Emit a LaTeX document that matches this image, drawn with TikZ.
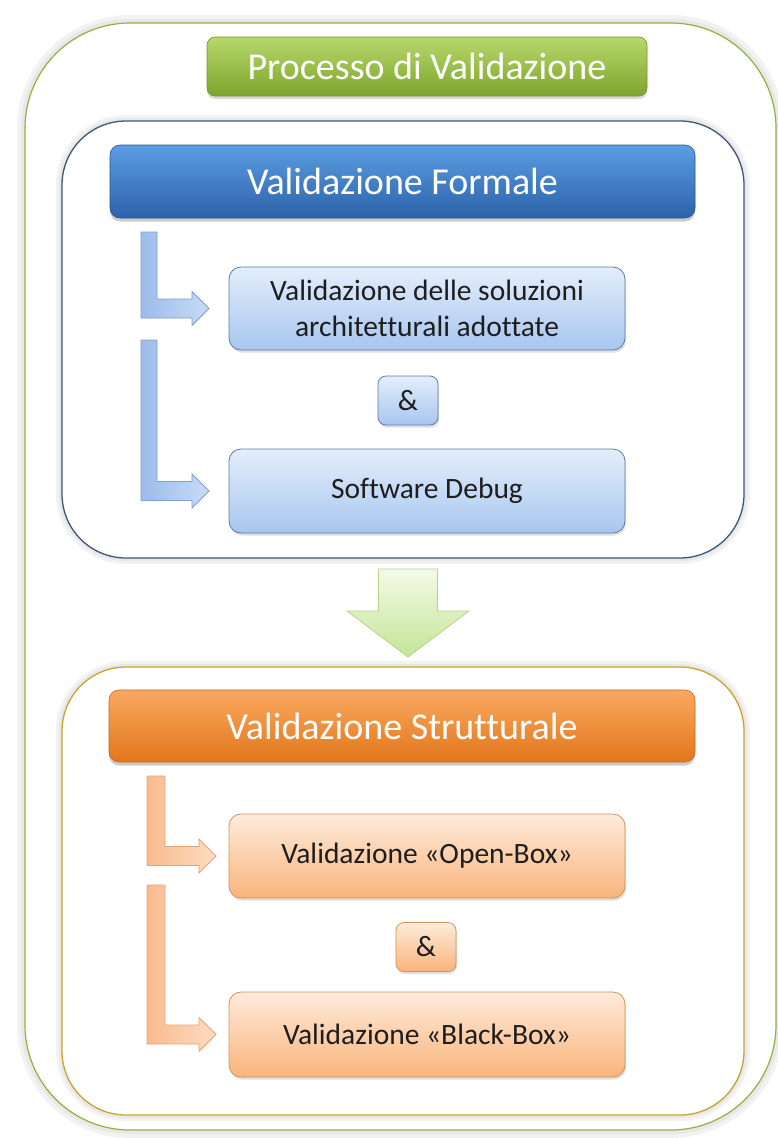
\documentclass[tikz,border=0pt]{standalone}
\usepackage{fontspec}
\setmainfont[Ligatures=NoCommon]{Carlito}
\usetikzlibrary{calc,shadows}
\definecolor{gTop}{HTML}{B7D86C}
\definecolor{gBot}{HTML}{7EA42B}
\definecolor{gBorder}{HTML}{76962E}
\definecolor{frameC}{HTML}{8DB33C}
\definecolor{bCont}{HTML}{3F5679}
\definecolor{oCont}{HTML}{C9A52A}
\definecolor{bHTop}{HTML}{5C9DE2}
\definecolor{bHBot}{HTML}{2C62A9}
\definecolor{bHBorder}{HTML}{2A5590}
\definecolor{oHTop}{HTML}{FAA961}
\definecolor{oHBot}{HTML}{E2761A}
\definecolor{oHBorder}{HTML}{C8661A}
\definecolor{bSTop}{HTML}{E4EEFB}
\definecolor{bSBot}{HTML}{A8C6F0}
\definecolor{bSBorder}{HTML}{5E7DA8}
\definecolor{oSTop}{HTML}{FEEBDB}
\definecolor{oSBot}{HTML}{F9B47C}
\definecolor{oSBorder}{HTML}{CF945C}
\definecolor{bATop}{HTML}{C9DBF5}
\definecolor{bABot}{HTML}{9CBCEA}
\definecolor{bABorder}{HTML}{7E9FCF}
\definecolor{oATop}{HTML}{FDDCC3}
\definecolor{oABot}{HTML}{F8BB8E}
\definecolor{oABorder}{HTML}{E3A575}
\definecolor{grTop}{HTML}{F4FAE8}
\definecolor{grBot}{HTML}{C4E596}
\definecolor{grBorder}{HTML}{B5D68A}
\definecolor{txt}{HTML}{1E1E1E}
\newcommand{\hdrfont}{\fontsize{38}{44}\selectfont}
\newcommand{\subfont}{\fontsize{29.5}{36.5}\selectfont}
\newcommand{\larrow}[7]{%
  \coordinate (#1t) at ($(#4.west)+(-#5,0)$);
  \coordinate (#1a) at (#2,#3);
  \coordinate (#1b) at ({#2+#6},#3);
  \coordinate (#1c) at ($(#1t)+(-17,-9.5)$);
  \coordinate (#1d) at ($(#1t)+(-17,-17)$);
  \coordinate (#1e) at ($(#1t)+(-17,17)$);
  \coordinate (#1f) at ($(#1t)+(-17,9.5)$);
  \path[#7] (#1a) -- (#1b) -- (#1b |- #1c) -- (#1c) -- (#1d) -- (#1t) -- (#1e) -- (#1f) -- (#1a |- #1f) -- cycle;
}
\begin{document}
\begin{tikzpicture}[x=1pt,y=-1pt,
  every node/.style={inner sep=0pt, outer sep=0pt},
  outerframe/.style={draw=frameC, line width=1.2pt, fill=white, rounded corners=105pt,
    preaction={draw=black!5, line width=16pt}, preaction={draw=black!9, line width=8pt}},
  container/.style={line width=1.3pt, fill=white, rounded corners=64pt,
    preaction={draw=black!5, line width=12pt}, preaction={draw=black!9, line width=6pt}},
  titlebox/.style={rounded corners=8pt, top color=gTop, bottom color=gBot, draw=gBorder,
    line width=.6pt, text=white, font=\hdrfont,
    drop shadow={shadow xshift=0pt, shadow yshift=-3pt, opacity=.3}},
  header/.style={rounded corners=10pt, line width=.6pt, text=white, font=\hdrfont,
    drop shadow={shadow xshift=0pt, shadow yshift=-3.5pt, opacity=.4}},
  subbox/.style={rounded corners=12pt, line width=.8pt, text=txt, font=\subfont, align=center,
    drop shadow={shadow xshift=1pt, shadow yshift=-2.5pt, opacity=.25}},
  ampbox/.style={rounded corners=8pt, line width=.8pt, text=txt, font=\subfont,
    minimum width=60pt, minimum height=49pt,
    drop shadow={shadow xshift=1pt, shadow yshift=-2.5pt, opacity=.25}},
  bluesub/.style={subbox, draw=bSBorder, top color=bSTop, bottom color=bSBot},
  orangesub/.style={subbox, draw=oSBorder, top color=oSTop, bottom color=oSBot},
  bluearrow/.style={draw=bABorder, line width=.8pt, left color=bABot, right color=bATop},
  orangearrow/.style={draw=oABorder, line width=.8pt, left color=oABot, right color=oATop},
  greenarrow/.style={draw=grBorder, line width=.8pt, top color=grTop, bottom color=grBot}
]
\useasboundingbox (0,0) rectangle (778,1138);
\fill[white] (0,0) rectangle (778,1138);

% outer frame and title
\node[outerframe, minimum width=751pt, minimum height=1107pt] (frame) at (400.5,576.5) {};
\node[titlebox, minimum width=440pt, minimum height=59pt] (title) at (427,66.5) {Processo di Validazione};

% formal validation container
\node[container, draw=bCont, minimum width=682pt, minimum height=437pt] (fc) at (403,339.5) {};
\node[header, draw=bHBorder, top color=bHTop, bottom color=bHBot,
      minimum width=585pt, minimum height=73pt] (fh) at (402.5,181.5) {Validazione Formale};
\node[bluesub, minimum width=396pt, minimum height=83pt] (fb1) at (427,308.5)
      {Validazione delle soluzioni\\architetturali adottate};
\node[ampbox, draw=bSBorder, top color=bSTop, bottom color=bSBot] (fa) at (408,400.5) {\&};
\node[bluesub, minimum width=396pt, minimum height=84pt] (fb2) at (427,491) {Software Debug};
\larrow{fl1}{141}{232}{fb1}{20}{16}{bluearrow}
\larrow{fl2}{141}{340}{fb2}{20}{16}{bluearrow}

% structural validation container
\node[container, draw=oCont, minimum width=682pt, minimum height=448pt] (sc) at (403,891) {};
\node[header, draw=oHBorder, top color=oHTop, bottom color=oHBot,
      minimum width=586pt, minimum height=72pt] (sh) at (402,726) {Validazione Strutturale};
\node[orangesub, minimum width=396pt, minimum height=84pt] (sb1) at (427,856) {Validazione «Open-Box»};
\node[ampbox, draw=oSBorder, top color=oSTop, bottom color=oSBot] (sa) at (426,947) {\&};
\node[orangesub, minimum width=396pt, minimum height=85pt] (sb2) at (427,1034.5) {Validazione «Black-Box»};
\larrow{sl1}{147}{776}{sb1}{13}{18}{orangearrow}
\larrow{sl2}{147}{885}{sb2}{13}{18}{orangearrow}

% green block arrow between the two phases
\coordinate (gt) at ($(fc.south)+(5,11)$);
\coordinate (gp) at ($(sc.north)+(5,-10)$);
\path[greenarrow] ($(gt)+(-29.5,0)$) -- ($(gt)+(29.5,0)$) -- ($(gp)+(29.5,-46)$) -- ($(gp)+(61,-46)$)
  -- (gp) -- ($(gp)+(-61,-46)$) -- ($(gp)+(-29.5,-46)$) -- cycle;
\end{tikzpicture}
\end{document}
